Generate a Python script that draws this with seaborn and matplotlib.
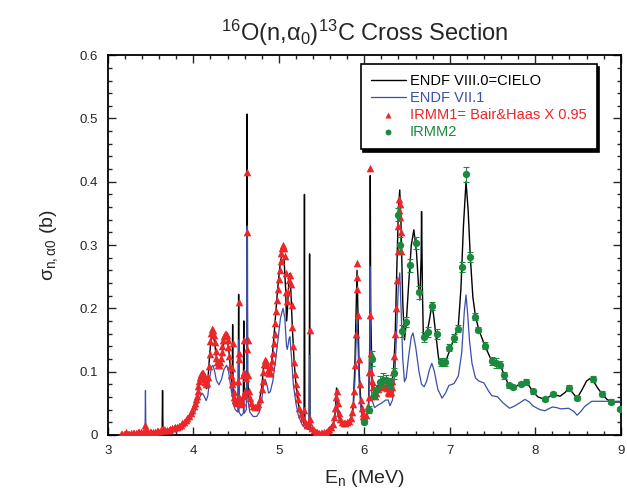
import matplotlib
matplotlib.use("Agg")
import matplotlib.pyplot as plt
import seaborn as sns
from matplotlib.ticker import MultipleLocator, FuncFormatter

# --- data ---

# ENDF VIII.0 = CIELO (black line)
cielo_e = [3.15, 3.25, 3.35, 3.45, 3.55, 3.635, 3.64, 3.645, 3.70, 3.75, 3.80, 3.85, 3.90, 3.95,
           4.00, 4.03, 4.06, 4.08, 4.10, 4.12, 4.14, 4.155, 4.17, 4.19, 4.21, 4.23, 4.25, 4.27,
           4.29, 4.31, 4.33, 4.36, 4.38, 4.40, 4.42, 4.44, 4.455, 4.46, 4.465, 4.48, 4.50, 4.525,
           4.53, 4.535, 4.55, 4.57, 4.585, 4.59, 4.595, 4.61, 4.625, 4.63, 4.635, 4.65, 4.68, 4.71,
           4.74, 4.77, 4.80, 4.82, 4.84, 4.86, 4.88, 4.90, 4.92, 4.94, 4.96, 4.98, 5.00, 5.02,
           5.04, 5.06, 5.08, 5.09, 5.10, 5.12, 5.13, 5.14, 5.16, 5.18, 5.20, 5.22, 5.25, 5.28,
           5.295, 5.30, 5.305, 5.33, 5.355, 5.36, 5.365, 5.40, 5.45, 5.50, 5.55, 5.60, 5.64, 5.66,
           5.675, 5.69, 5.72, 5.76, 5.80, 5.84, 5.87, 5.89, 5.905, 5.915, 5.925, 5.94, 5.96, 5.98,
           6.00, 6.03, 6.05, 6.065, 6.07, 6.075, 6.09, 6.11, 6.14, 6.17, 6.20, 6.24, 6.28, 6.31,
           6.34, 6.36, 6.38, 6.40, 6.415, 6.43, 6.45, 6.47, 6.49, 6.52, 6.55, 6.58, 6.61, 6.635,
           6.65, 6.665, 6.67, 6.68, 6.69, 6.70, 6.73, 6.76, 6.79, 6.81, 6.84, 6.87, 6.91, 6.95,
           6.99, 7.03, 7.07, 7.10, 7.13, 7.16, 7.19, 7.215, 7.24, 7.27, 7.30, 7.34, 7.41, 7.49,
           7.545, 7.59, 7.64, 7.69, 7.74, 7.78, 7.83, 7.89, 7.93, 7.97, 8.03, 8.11, 8.16, 8.21,
           8.29, 8.35, 8.39, 8.44, 8.49, 8.55, 8.60, 8.64, 8.68, 8.73, 8.78, 8.84, 8.89, 8.95, 9.00]
cielo_s = [0.000, 0.002, 0.003, 0.004, 0.005, 0.006, 0.070, 0.007, 0.008, 0.010, 0.012, 0.016, 0.021, 0.029,
           0.040, 0.052, 0.072, 0.086, 0.094, 0.090, 0.078, 0.073, 0.085, 0.125, 0.155, 0.160, 0.145, 0.122,
           0.110, 0.110, 0.122, 0.148, 0.155, 0.150, 0.128, 0.095, 0.080, 0.174, 0.072, 0.058, 0.050, 0.047,
           0.222, 0.050, 0.046, 0.050, 0.055, 0.180, 0.062, 0.060, 0.070, 0.507, 0.090, 0.060, 0.047, 0.042,
           0.043, 0.052, 0.075, 0.105, 0.117, 0.110, 0.097, 0.100, 0.120, 0.150, 0.185, 0.220, 0.250, 0.275,
           0.285, 0.280, 0.230, 0.180, 0.195, 0.250, 0.255, 0.230, 0.165, 0.115, 0.080, 0.055, 0.035, 0.022,
           0.018, 0.380, 0.016, 0.012, 0.010, 0.286, 0.012, 0.007, 0.004, 0.003, 0.005, 0.010, 0.020, 0.035,
           0.074, 0.040, 0.022, 0.016, 0.017, 0.024, 0.045, 0.110, 0.200, 0.260, 0.200, 0.100, 0.050, 0.028,
           0.022, 0.030, 0.050, 0.150, 0.410, 0.200, 0.090, 0.070, 0.070, 0.080, 0.085, 0.086, 0.083, 0.080,
           0.095, 0.150, 0.260, 0.360, 0.387, 0.330, 0.210, 0.150, 0.175, 0.240, 0.300, 0.324, 0.290, 0.235,
           0.213, 0.280, 0.353, 0.230, 0.160, 0.150, 0.158, 0.180, 0.205, 0.190, 0.155, 0.120, 0.108, 0.115,
           0.130, 0.145, 0.160, 0.172, 0.230, 0.330, 0.400, 0.355, 0.282, 0.218, 0.188, 0.166, 0.141, 0.117,
           0.113, 0.110, 0.094, 0.078, 0.075, 0.077, 0.081, 0.084, 0.077, 0.069, 0.060, 0.056, 0.060, 0.064,
           0.061, 0.067, 0.074, 0.066, 0.058, 0.072, 0.085, 0.089, 0.085, 0.074, 0.065, 0.056, 0.052, 0.052, 0.052]

# ENDF VII.1 (blue line)
endf7_e = [3.15, 3.25, 3.35, 3.435, 3.44, 3.445, 3.55, 3.65, 3.75, 3.85, 3.90, 3.95, 4.00, 4.04,
           4.07, 4.10, 4.12, 4.15, 4.17, 4.19, 4.21, 4.23, 4.25, 4.27, 4.30, 4.33, 4.36, 4.39,
           4.41, 4.43, 4.455, 4.46, 4.465, 4.49, 4.52, 4.53, 4.535, 4.56, 4.585, 4.59, 4.595, 4.62,
           4.63, 4.635, 4.66, 4.70, 4.74, 4.77, 4.80, 4.82, 4.84, 4.86, 4.88, 4.90, 4.93, 4.96,
           4.99, 5.02, 5.05, 5.07, 5.09, 5.10, 5.12, 5.13, 5.15, 5.17, 5.20, 5.23, 5.27, 5.31,
           5.355, 5.36, 5.365, 5.40, 5.45, 5.50, 5.55, 5.60, 5.64, 5.66, 5.675, 5.69, 5.72, 5.76,
           5.80, 5.84, 5.87, 5.89, 5.905, 5.915, 5.925, 5.94, 5.96, 5.98, 6.00, 6.03, 6.05, 6.065,
           6.07, 6.075, 6.09, 6.12, 6.16, 6.20, 6.25, 6.28, 6.30, 6.33, 6.36, 6.38, 6.40, 6.415,
           6.43, 6.45, 6.47, 6.49, 6.52, 6.55, 6.57, 6.60, 6.64, 6.67, 6.70, 6.73, 6.76, 6.79,
           6.82, 6.86, 6.91, 6.95, 6.99, 7.05, 7.10, 7.14, 7.17, 7.19, 7.21, 7.23, 7.26, 7.30,
           7.34, 7.40, 7.45, 7.49, 7.56, 7.62, 7.70, 7.75, 7.80, 7.88, 7.93, 7.97, 8.05, 8.11,
           8.20, 8.25, 8.30, 8.39, 8.45, 8.49, 8.54, 8.58, 8.66, 8.75, 8.85, 9.00]
endf7_s = [0.000, 0.002, 0.003, 0.004, 0.070, 0.005, 0.005, 0.006, 0.008, 0.013, 0.017, 0.023, 0.031, 0.043,
           0.058, 0.066, 0.063, 0.054, 0.062, 0.088, 0.106, 0.110, 0.100, 0.086, 0.079, 0.088, 0.104, 0.110,
           0.102, 0.083, 0.060, 0.095, 0.050, 0.040, 0.036, 0.150, 0.036, 0.030, 0.034, 0.060, 0.034, 0.040,
           0.330, 0.060, 0.036, 0.029, 0.029, 0.035, 0.055, 0.078, 0.088, 0.080, 0.066, 0.068, 0.085, 0.115,
           0.150, 0.185, 0.200, 0.185, 0.140, 0.135, 0.152, 0.155, 0.120, 0.080, 0.050, 0.030, 0.017, 0.010,
           0.008, 0.125, 0.008, 0.005, 0.003, 0.003, 0.004, 0.008, 0.016, 0.030, 0.058, 0.032, 0.018, 0.013,
           0.014, 0.020, 0.038, 0.085, 0.150, 0.177, 0.150, 0.080, 0.040, 0.022, 0.018, 0.025, 0.040, 0.120,
           0.266, 0.120, 0.055, 0.043, 0.047, 0.050, 0.055, 0.055, 0.046, 0.055, 0.100, 0.170, 0.240, 0.256,
           0.200, 0.120, 0.084, 0.090, 0.125, 0.155, 0.161, 0.140, 0.100, 0.080, 0.076, 0.085, 0.102, 0.113,
           0.100, 0.072, 0.058, 0.066, 0.078, 0.081, 0.093, 0.130, 0.195, 0.221, 0.190, 0.150, 0.113, 0.090,
           0.085, 0.082, 0.070, 0.062, 0.060, 0.051, 0.042, 0.045, 0.049, 0.056, 0.052, 0.046, 0.040, 0.038,
           0.044, 0.043, 0.041, 0.042, 0.037, 0.031, 0.038, 0.045, 0.053, 0.053, 0.053, 0.053]

# IRMM1 = Bair & Haas x 0.95 (red triangles)
irmm1_e = [3.15, 3.17, 3.19, 3.21, 3.23, 3.25, 3.27, 3.29, 3.31, 3.33, 3.35, 3.37, 3.39, 3.41,
           3.43, 3.44, 3.45, 3.47, 3.49, 3.51, 3.53, 3.55, 3.57, 3.59, 3.61, 3.63, 3.64, 3.65,
           3.67, 3.69, 3.71, 3.73, 3.75, 3.77, 3.79, 3.81, 3.83, 3.85, 3.87, 3.89, 3.91, 3.93,
           3.95, 3.97, 3.99, 4.01, 4.02, 4.03, 4.04, 4.05, 4.06, 4.07, 4.08, 4.09, 4.10, 4.11,
           4.12, 4.13, 4.14, 4.15, 4.16, 4.17, 4.18, 4.19, 4.20, 4.21, 4.22, 4.23, 4.24, 4.25,
           4.26, 4.27, 4.28, 4.29, 4.30, 4.31, 4.32, 4.33, 4.34, 4.35, 4.36, 4.37, 4.38, 4.39,
           4.40, 4.41, 4.42, 4.43, 4.44, 4.45, 4.455, 4.46, 4.465, 4.47, 4.48, 4.49, 4.50, 4.51,
           4.52, 4.525, 4.53, 4.532, 4.535, 4.54, 4.55, 4.56, 4.57, 4.58, 4.585, 4.59, 4.595, 4.60,
           4.61, 4.62, 4.625, 4.628, 4.632, 4.636, 4.64, 4.65, 4.66, 4.68, 4.70, 4.72, 4.74, 4.76,
           4.78, 4.80, 4.81, 4.82, 4.83, 4.84, 4.85, 4.86, 4.87, 4.88, 4.89, 4.90, 4.91, 4.92,
           4.93, 4.94, 4.95, 4.96, 4.97, 4.98, 4.99, 5.00, 5.01, 5.02, 5.03, 5.04, 5.05, 5.06,
           5.07, 5.08, 5.09, 5.10, 5.11, 5.12, 5.13, 5.14, 5.15, 5.16, 5.17, 5.18, 5.19, 5.20,
           5.21, 5.22, 5.24, 5.26, 5.28, 5.30, 5.31, 5.33, 5.35, 5.36, 5.37, 5.39, 5.41, 5.43,
           5.45, 5.47, 5.49, 5.51, 5.53, 5.55, 5.57, 5.59, 5.61, 5.63, 5.65, 5.66, 5.67, 5.68,
           5.69, 5.70, 5.72, 5.74, 5.76, 5.78, 5.80, 5.82, 5.84, 5.86, 5.87, 5.88, 5.89, 5.90,
           5.91, 5.915, 5.92, 5.93, 5.94, 5.95, 5.96, 5.97, 5.98, 5.99, 6.00, 6.02, 6.04, 6.05,
           6.06, 6.065, 6.07, 6.075, 6.08, 6.09, 6.10, 6.11, 6.12, 6.14, 6.16, 6.18, 6.20, 6.22,
           6.24, 6.26, 6.27, 6.28, 6.29, 6.30, 6.31, 6.32, 6.33, 6.34, 6.35, 6.36, 6.37, 6.38,
           6.39, 6.40, 6.405, 6.41, 6.415, 6.42, 6.425, 6.43]
irmm1_s = [0.001, 0.001, 0.002, 0.005, 0.002, 0.002, 0.003, 0.003, 0.003, 0.003, 0.004, 0.004, 0.004, 0.004,
           0.006, 0.016, 0.007, 0.005, 0.005, 0.005, 0.005, 0.005, 0.006, 0.006, 0.006, 0.007, 0.011, 0.008,
           0.007, 0.008, 0.008, 0.009, 0.010, 0.011, 0.012, 0.013, 0.014, 0.016, 0.018, 0.020, 0.023, 0.026,
           0.030, 0.034, 0.039, 0.045, 0.050, 0.056, 0.062, 0.069, 0.077, 0.085, 0.091, 0.096, 0.098, 0.097,
           0.094, 0.089, 0.083, 0.080, 0.082, 0.092, 0.108, 0.128, 0.148, 0.161, 0.167, 0.165, 0.158, 0.146,
           0.133, 0.122, 0.115, 0.111, 0.111, 0.115, 0.122, 0.131, 0.141, 0.150, 0.156, 0.160, 0.160, 0.157,
           0.150, 0.139, 0.124, 0.108, 0.094, 0.080, 0.105, 0.145, 0.085, 0.068, 0.060, 0.055, 0.052, 0.050,
           0.055, 0.085, 0.130, 0.210, 0.120, 0.060, 0.050, 0.048, 0.052, 0.062, 0.095, 0.150, 0.100, 0.070,
           0.065, 0.090, 0.135, 0.320, 0.415, 0.150, 0.095, 0.070, 0.058, 0.050, 0.046, 0.044, 0.045, 0.049,
           0.057, 0.072, 0.085, 0.100, 0.112, 0.118, 0.117, 0.110, 0.103, 0.098, 0.097, 0.100, 0.107, 0.117,
           0.130, 0.145, 0.160, 0.177, 0.195, 0.213, 0.230, 0.246, 0.261, 0.275, 0.287, 0.296, 0.300, 0.296,
           0.282, 0.255, 0.225, 0.212, 0.225, 0.245, 0.252, 0.238, 0.205, 0.170, 0.140, 0.115, 0.096, 0.080,
           0.067, 0.057, 0.043, 0.033, 0.026, 0.040, 0.020, 0.015, 0.020, 0.166, 0.025, 0.010, 0.007, 0.005,
           0.004, 0.003, 0.003, 0.003, 0.004, 0.005, 0.007, 0.009, 0.012, 0.017, 0.028, 0.042, 0.060, 0.070,
           0.050, 0.035, 0.025, 0.020, 0.019, 0.019, 0.020, 0.022, 0.027, 0.036, 0.048, 0.070, 0.110, 0.160,
           0.230, 0.272, 0.250, 0.190, 0.120, 0.080, 0.055, 0.042, 0.034, 0.030, 0.028, 0.032, 0.045, 0.060,
           0.100, 0.190, 0.422, 0.130, 0.100, 0.085, 0.075, 0.065, 0.062, 0.066, 0.072, 0.076, 0.078, 0.078,
           0.076, 0.077, 0.074, 0.068, 0.066, 0.066, 0.068, 0.075, 0.085, 0.100, 0.125, 0.160, 0.200, 0.245,
           0.290, 0.330, 0.355, 0.372, 0.365, 0.345, 0.320, 0.290]

# IRMM2 (green points with error bars)
irmm2_e = [5.995, 6.05, 6.09, 6.11, 6.14, 6.18, 6.22, 6.25, 6.30, 6.345, 6.395, 6.42, 6.447, 6.49,
           6.54, 6.60, 6.64, 6.70, 6.75, 6.79, 6.85, 6.895, 6.94, 6.995, 7.05, 7.10, 7.145, 7.195,
           7.24, 7.29, 7.335, 7.41, 7.49, 7.54, 7.59, 7.64, 7.69, 7.74, 7.83, 7.89, 7.97, 8.11,
           8.21, 8.39, 8.49, 8.68, 8.78, 8.89, 8.99]
irmm2_s = [0.021, 0.040, 0.120, 0.062, 0.071, 0.083, 0.087, 0.087, 0.082, 0.097, 0.348, 0.300, 0.164, 0.178,
           0.268, 0.303, 0.225, 0.154, 0.163, 0.204, 0.159, 0.115, 0.115, 0.138, 0.153, 0.168, 0.265, 0.412,
           0.281, 0.187, 0.166, 0.141, 0.117, 0.113, 0.111, 0.094, 0.078, 0.075, 0.080, 0.084, 0.069, 0.056,
           0.064, 0.074, 0.058, 0.088, 0.065, 0.052, 0.041]
irmm2_err = [0.004, 0.005, 0.012, 0.006, 0.008, 0.010, 0.010, 0.008, 0.008, 0.008, 0.010, 0.012, 0.010, 0.008,
             0.010, 0.010, 0.010, 0.008, 0.008, 0.006, 0.008, 0.006, 0.006, 0.006, 0.006, 0.006, 0.008, 0.012,
             0.008, 0.006, 0.004, 0.005, 0.006, 0.008, 0.005, 0.005, 0.004, 0.003, 0.003, 0.004, 0.004, 0.003,
             0.003, 0.004, 0.003, 0.005, 0.004, 0.004, 0.003]

# --- colours and style ---
BLACK = "#000000"
BLUE = "#3b4ea8"
RED = "#ec2629"
GREEN = "#1b8a3f"

sns.set_style("ticks")
plt.rcParams["font.family"] = ["Liberation Sans", "DejaVu Sans"]
plt.rcParams["mathtext.fontset"] = "custom"
plt.rcParams["mathtext.rm"] = "Liberation Sans"
plt.rcParams["mathtext.it"] = "Liberation Sans"
plt.rcParams["mathtext.default"] = "regular"

fig, ax = plt.subplots(figsize=(6.27, 4.93), dpi=100)
fig.subplots_adjust(left=0.172, right=0.990, bottom=0.118, top=0.888)

sns.lineplot(x=cielo_e, y=cielo_s, sort=False, estimator=None, color=BLACK, lw=1.0,
             label="ENDF VIII.0=CIELO", ax=ax, zorder=2)
sns.lineplot(x=endf7_e, y=endf7_s, sort=False, estimator=None, color=BLUE, lw=0.9,
             label="ENDF VII.1", ax=ax, zorder=3)
sns.scatterplot(x=irmm1_e, y=irmm1_s, marker="^", s=30, color=RED, linewidth=0,
                label="IRMM1= Bair&Haas X 0.95", ax=ax, zorder=4)
ax.errorbar(irmm2_e, irmm2_s, yerr=irmm2_err, fmt="none", ecolor=GREEN, elinewidth=0.8,
            capsize=2, capthick=0.8, zorder=5)
sns.scatterplot(x=irmm2_e, y=irmm2_s, marker="o", s=28, color=GREEN, linewidth=0,
                label="IRMM2", ax=ax, zorder=6)

# --- axes ---
ax.set_xlim(3, 9)
ax.set_ylim(0, 0.6)
ax.xaxis.set_major_locator(MultipleLocator(1))
ax.xaxis.set_minor_locator(MultipleLocator(0.2))
ax.yaxis.set_major_locator(MultipleLocator(0.1))
ax.yaxis.set_minor_locator(MultipleLocator(0.02))
ax.yaxis.set_major_formatter(FuncFormatter(lambda v, p: "%g" % round(v, 2)))
ax.tick_params(which="both", direction="in", top=True, right=True, width=1.0, labelsize=9.5)
ax.tick_params(which="major", length=6, pad=7)
ax.tick_params(which="minor", length=3)
for sp in ax.spines.values():
    sp.set_linewidth(1.3)
    sp.set_color("black")

ax.set_xlabel(r"E$_n$ (MeV)", fontsize=14, labelpad=8)
ax.set_ylabel(r"$\sigma_{n,\alpha 0}$ (b)", fontsize=14, labelpad=14)
ax.set_title(r"$^{16}$O(n,$\alpha_0$)$^{13}$C Cross Section", fontsize=17, pad=10)

leg = ax.legend(loc="upper left", bbox_to_anchor=(0.493, 0.977), fontsize=10.5,
                frameon=True, fancybox=False, shadow={"color": "black", "alpha": 1.0},
                framealpha=1, edgecolor="black", handlelength=2.4, handletextpad=0.25,
                labelspacing=0.2, borderpad=0.7, borderaxespad=0, markerscale=0.8)
leg.get_frame().set_linewidth(1.2)
for txt, c in zip(leg.get_texts(), [BLACK, BLUE, RED, GREEN]):
    txt.set_color(c)

fig.savefig("out.png", dpi=100)
